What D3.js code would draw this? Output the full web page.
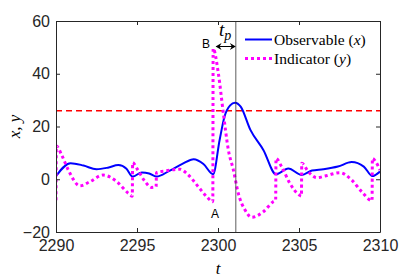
<!DOCTYPE html>
<html>
<head>
<meta charset="utf-8">
<script src="https://cdn.jsdelivr.net/npm/d3@7"></script>
<style>
  body { margin: 0; background: #fff; }
  svg { display: block; }
</style>
</head>
<body>
<div id="chart"></div>
<script>
// chart size and margins
const width = 420;
const height = 280;
const margin = {left: 56, right: 40, top: 21, bottom: 48};

// observable x(t)
const obsT = [2290, 2290.9, 2291.7, 2292.5, 2293.2, 2293.85, 2294.35, 2294.73, 2295.3, 2295.75, 2296.2, 2297.0, 2297.8, 2298.5, 2299.1, 2299.7,
              2300.1, 2300.4, 2300.75, 2301.05, 2301.4, 2302.0, 2302.8, 2303.58, 2304.34, 2305.17, 2305.8, 2306.5, 2307.4, 2308.25, 2309.0, 2309.53, 2310];
const obsV = [1.2, 6.1, 5.2, 3.8, 4.4, 5.4, 4.0, 1.0, 2.6, 2.2, 1.0, 3.2, 5.8, 7.6, 5.8, 1.9,
              14.9, 23.7, 28.0, 29.0, 27.5, 18.7, 11.1, 1.9, 4.1, 1.6, 3.3, 3.8, 4.8, 6.5, 4.8, 1.2, 2.9];

// indicator y(t)
const indT = [2290, 2290.02, 2290.35, 2290.76, 2291.48, 2292.1, 2292.9, 2293.75, 2294.46, 2294.71, 2294.73, 2294.98, 2295.5, 2295.9, 2296.18, 2296.2,
              2296.8, 2297.65, 2298.07, 2298.78, 2299.3, 2299.68, 2299.7, 2300.02, 2300.33, 2300.64, 2300.95, 2301.25, 2301.67, 2302.08, 2302.8, 2303.41, 2303.56, 2303.58,
              2303.93, 2304.44, 2305.02, 2305.15, 2305.17, 2305.57, 2306.1, 2306.6, 2307.53, 2308.25, 2308.87, 2309.51, 2309.53, 2309.75, 2310];
const indV = [-8.0, 12.6, 9.2, 3.5, -2.5, -0.9, 1.6, -0.9, -5.3, -6.4, 6.3, 4.2, -0.9, -3.1, -2.8, 2.5,
              3.2, 3.8, 2.2, -2.8, -6.6, -8.5, 49.6, 40.2, 25.0, 11.1, 3.5, -5.3, -11.7, -14.4, -12.3, -8.5, -7.9, 7.9,
              4.7, -1.6, -6.0, -6.4, 6.1, 2.9, 0.6, 1.2, 2.5, -0.3, -4.7, -8.1, 7.9, 6.5, 3.5];

const threshold = 26;
const tPeak = 2301.1;
const xTicks = [2290, 2295, 2300, 2305, 2310];
const yTicks = [-20, 0, 20, 40, 60];
const legendLabels = ["Observable (", "Indicator ("];
const legendVars = ["x", "y"];

const svg = d3.select("#chart")
  .append("svg")
  .attr("width", width)
  .attr("height", height);

const x = d3.scaleLinear()
  .domain([2290, 2310])
  .range([margin.left, width - margin.right]);

const y = d3.scaleLinear()
  .domain([-20, 60])
  .range([height - margin.bottom, margin.top]);

const axisColor = "#262626";
const tickFont = "'Liberation Sans', Arial, sans-serif";
const mathFont = "'Liberation Serif', 'Times New Roman', serif";

// clip for the curves
svg.append("clipPath").attr("id", "clip")
  .append("rect")
  .attr("x", margin.left).attr("y", margin.top)
  .attr("width", width - margin.left - margin.right)
  .attr("height", height - margin.top - margin.bottom);

const plot = svg.append("g").attr("clip-path", "url(#clip)");

// threshold line
plot.append("line")
  .attr("x1", x(2290)).attr("x2", x(2310))
  .attr("y1", y(threshold)).attr("y2", y(threshold))
  .attr("stroke", "#ff0000")
  .attr("stroke-width", 1.6)
  .attr("stroke-dasharray", "6,4");

// vertical marker at peak
svg.append("line")
  .attr("x1", x(tPeak)).attr("x2", x(tPeak))
  .attr("y1", y(60)).attr("y2", y(-20))
  .attr("stroke", "#333")
  .attr("stroke-width", 0.8);

const line = d3.line()
  .x(d => x(d[0]))
  .y(d => y(d[1]))
  .curve(d3.curveMonotoneX);

plot.append("path")
  .datum(obsT.map((t, i) => [t, obsV[i]]))
  .attr("d", line)
  .attr("fill", "none")
  .attr("stroke", "#0000ff")
  .attr("stroke-width", 2);

plot.append("path")
  .datum(indT.map((t, i) => [t, indV[i]]))
  .attr("d", line)
  .attr("fill", "none")
  .attr("stroke", "#ff00ff")
  .attr("stroke-width", 3)
  .attr("stroke-dasharray", "3,3");

// axes, box style with inward ticks
const gx = svg.append("g")
  .attr("transform", `translate(0,${height - margin.bottom})`)
  .call(d3.axisBottom(x).tickValues(xTicks).tickFormat(d3.format("d")).tickSizeInner(-4).tickSizeOuter(0).tickPadding(8));
const gy = svg.append("g")
  .attr("transform", `translate(${margin.left},0)`)
  .call(d3.axisLeft(y).tickValues(yTicks).tickSizeInner(-4).tickSizeOuter(0).tickPadding(6));
const gxTop = svg.append("g")
  .attr("transform", `translate(0,${margin.top})`)
  .call(d3.axisTop(x).tickValues(xTicks).tickFormat("").tickSizeInner(-4).tickSizeOuter(0));
const gyRight = svg.append("g")
  .attr("transform", `translate(${width - margin.right},0)`)
  .call(d3.axisRight(y).tickValues(yTicks).tickFormat("").tickSizeInner(-4).tickSizeOuter(0));

[gx, gy, gxTop, gyRight].forEach(g => {
  g.selectAll("path").attr("stroke", axisColor).attr("stroke-width", 1);
  g.selectAll("line").attr("stroke", axisColor);
  g.selectAll("text").attr("fill", axisColor)
    .style("font-family", tickFont).style("font-size", "16px");
});

// axis labels
svg.append("text")
  .attr("x", (margin.left + width - margin.right) / 2)
  .attr("y", 274)
  .attr("text-anchor", "middle")
  .style("font-family", mathFont).style("font-style", "italic").style("font-size", "17px")
  .text("t");

svg.append("text")
  .attr("transform", `translate(20,${(margin.top + height - margin.bottom) / 2}) rotate(-90)`)
  .attr("text-anchor", "middle")
  .style("font-family", mathFont).style("font-style", "italic").style("font-size", "17px")
  .text("x, y");

// A and B annotations
svg.append("text")
  .attr("x", 206).attr("y", 48)
  .attr("text-anchor", "middle")
  .style("font-family", tickFont).style("font-size", "12px")
  .text("B");
svg.append("text")
  .attr("x", 215).attr("y", 218)
  .attr("text-anchor", "middle")
  .style("font-family", tickFont).style("font-size", "12px")
  .text("A");

// t_p double arrow
const arrowY = 46.5;
const ax1 = x(2299.85), ax2 = x(tPeak);
svg.append("line")
  .attr("x1", ax1 + 1).attr("x2", ax2 - 1)
  .attr("y1", arrowY).attr("y2", arrowY)
  .attr("stroke", "#000").attr("stroke-width", 1);
svg.append("path")
  .attr("d", `M${ax1},${arrowY} l6,-3.5 l-2,3.5 l2,3.5 Z M${ax2},${arrowY} l-6,-3.5 l2,3.5 l-2,3.5 Z`)
  .attr("fill", "#000");

const tp = svg.append("text")
  .attr("x", 219).attr("y", 36)
  .style("font-family", mathFont).style("font-style", "italic").style("font-size", "19px");
tp.append("tspan").text("t");
tp.append("tspan").attr("dy", 4).style("font-size", "14px").text("p");

// legend
const legendX = 245;
const legendY = [39.5, 58.5];
svg.append("line")
  .attr("x1", legendX).attr("x2", legendX + 27)
  .attr("y1", legendY[0]).attr("y2", legendY[0])
  .attr("stroke", "#0000ff").attr("stroke-width", 2);
svg.append("line")
  .attr("x1", legendX).attr("x2", legendX + 27)
  .attr("y1", legendY[1]).attr("y2", legendY[1])
  .attr("stroke", "#ff00ff").attr("stroke-width", 3).attr("stroke-dasharray", "3,3");

legendLabels.forEach((lab, i) => {
  const t = svg.append("text")
    .attr("x", legendX + 29).attr("y", legendY[i] + 5)
    .style("font-family", mathFont).style("font-size", "15.5px").attr("fill", "#000");
  t.append("tspan").text(lab);
  t.append("tspan").style("font-style", "italic").text(legendVars[i]);
  t.append("tspan").text(")");
});
</script>
</body>
</html>
